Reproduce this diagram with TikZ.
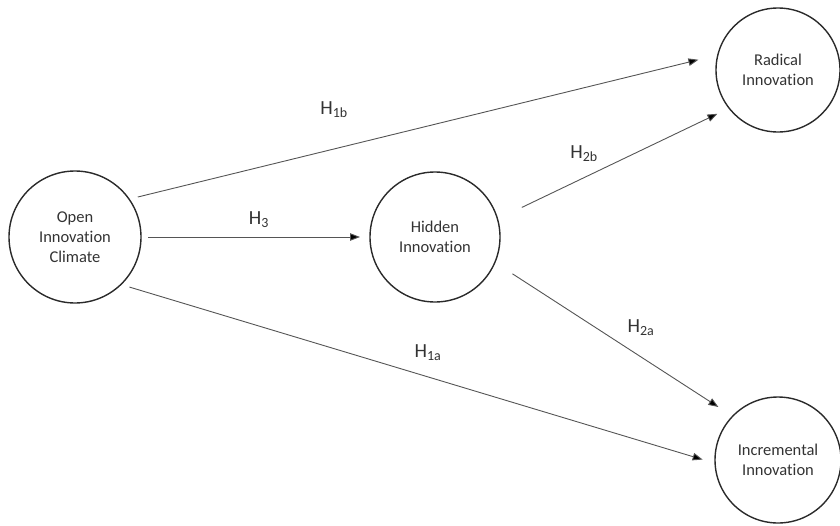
\documentclass[tikz,border=0pt]{standalone}
\usepackage{fontspec}
\setmainfont{Carlito}[Ligatures={NoCommon}]
\usetikzlibrary{arrows.meta}
\definecolor{circ}{HTML}{2A2A2A}
\definecolor{arrc}{HTML}{555555}
\definecolor{txt}{HTML}{333333}
\tikzset{
  construct/.style={circle, draw=circ, line width=1.4pt, inner sep=0pt, outer sep=0pt,
    minimum size=#1, align=center, text=txt, font=\fontsize{16.5}{20}\selectfont},
  arr/.style={draw=arrc, line width=0.9pt, -{Triangle[length=10pt,width=7.5pt,fill=black]}},
  hyp/.style={text=txt, font=\fontsize{20}{24}\selectfont, inner sep=1pt}
}
\begin{document}
\begin{tikzpicture}[x=1pt,y=-1pt]
\useasboundingbox (0,0) rectangle (840,525);
\node[construct=132pt] (open) at (75,237) {Open\\Innovation\\Climate};
\node[construct=130pt] (hidden) at (435,237) {Hidden\\Innovation};
\node[construct=124pt] (radical) at (778,70) {Radical\\Innovation};
\node[construct=126pt] (incr) at (778,460) {Incremental\\Innovation};

\draw[arr, shorten <=7pt, shorten >=10pt] (open.0) -- (hidden.180);
\draw[arr, shorten <=9pt, shorten >=20pt] (open.35) -- (radical.166);
\draw[arr, shorten <=27pt, shorten >=13pt] (hidden.16) -- (radical.218);
\draw[arr, shorten <=21pt, shorten >=17pt] (hidden.-23) -- (incr.136);
\draw[arr, shorten <=9pt, shorten >=13pt] (open.-46) -- (incr.183);

\node[hyp] (h3) at (259,220) {H\textsubscript{3}};
\node[hyp] (h1b) at (334,110) {H\textsubscript{1b}};
\node[hyp] (h2b) at (584,154) {H\textsubscript{2b}};
\node[hyp] (h2a) at (641,328) {H\textsubscript{2a}};
\node[hyp] (h1a) at (428,353) {H\textsubscript{1a}};
\end{tikzpicture}
\end{document}
